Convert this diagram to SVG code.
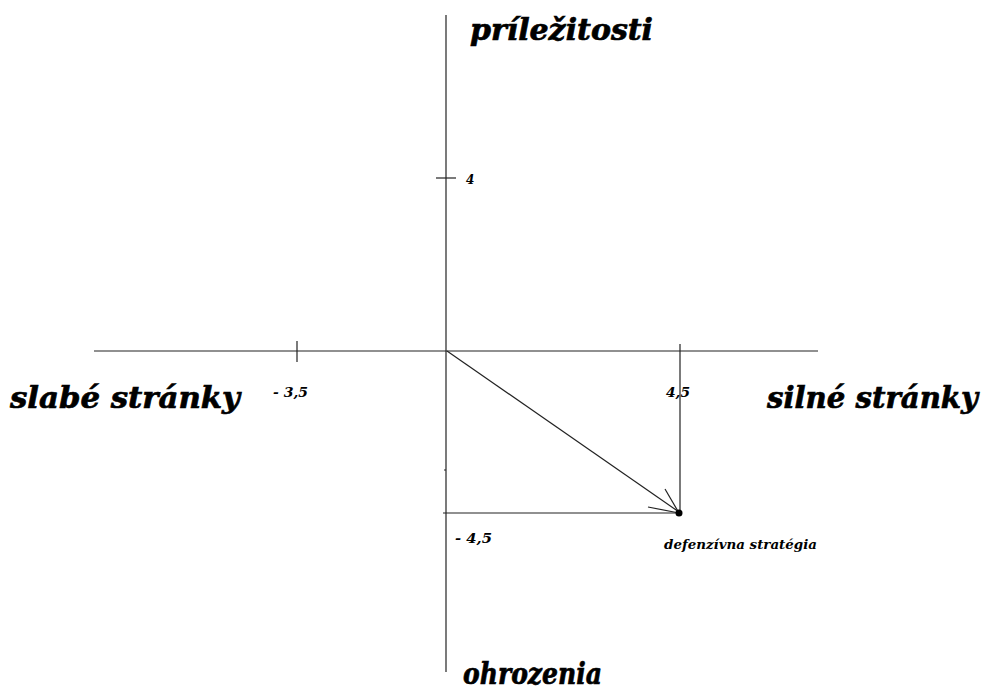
<svg xmlns="http://www.w3.org/2000/svg" width="986" height="691" viewBox="0 0 986 691">
<style>
.ax{stroke:#222;stroke-width:1.2;fill:none}
.big{font-family:"DejaVu Serif",serif;font-weight:bold;font-style:italic;font-size:30px;fill:#000;stroke:#000;stroke-width:0.7}
.sm{font-family:"DejaVu Serif",serif;font-weight:bold;font-style:italic;font-size:12px;fill:#000}
</style>
<rect width="986" height="691" fill="#fff"/>
<g id="connectors">
<line class="ax" x1="446" y1="15" x2="446" y2="672"/>
<line class="ax" x1="94" y1="351" x2="818" y2="351"/>
<line class="ax" x1="436" y1="178" x2="456" y2="178"/>
<line class="ax" x1="297" y1="341" x2="297" y2="362"/>
<line class="ax" x1="680" y1="344" x2="680" y2="513"/>
<line class="ax" x1="443" y1="513" x2="680" y2="513"/>
<line class="ax" x1="444" y1="470" x2="446" y2="470"/>
<line class="ax" x1="447" y1="351" x2="679" y2="512"/>
<line class="ax" x1="679" y1="513" x2="665" y2="489"/>
<line class="ax" x1="679" y1="513" x2="648" y2="507"/>
</g>
<g id="point"><circle cx="679" cy="513" r="3.5" fill="#000"/></g>
<g id="labels">
<text class="big" x="470" y="40" textLength="183" lengthAdjust="spacingAndGlyphs">príležitosti</text>
<text class="big" x="10" y="408" textLength="230" lengthAdjust="spacingAndGlyphs">slabé stránky</text>
<text class="big" x="767" y="408" textLength="211" lengthAdjust="spacingAndGlyphs">silné stránky</text>
<text class="big" x="463" y="684" textLength="139" lengthAdjust="spacingAndGlyphs">ohrozenia</text>
<text class="sm" x="466" y="184">4</text>
<text class="sm" x="273" y="397" textLength="35" lengthAdjust="spacingAndGlyphs">- 3,5</text>
<text class="sm" x="666" y="397" textLength="24" lengthAdjust="spacingAndGlyphs">4,5</text>
<text class="sm" x="455" y="543" textLength="37" lengthAdjust="spacingAndGlyphs">- 4,5</text>
<text class="sm" x="664" y="549" textLength="153" lengthAdjust="spacingAndGlyphs">defenzívna stratégia</text>
</g>
</svg>
